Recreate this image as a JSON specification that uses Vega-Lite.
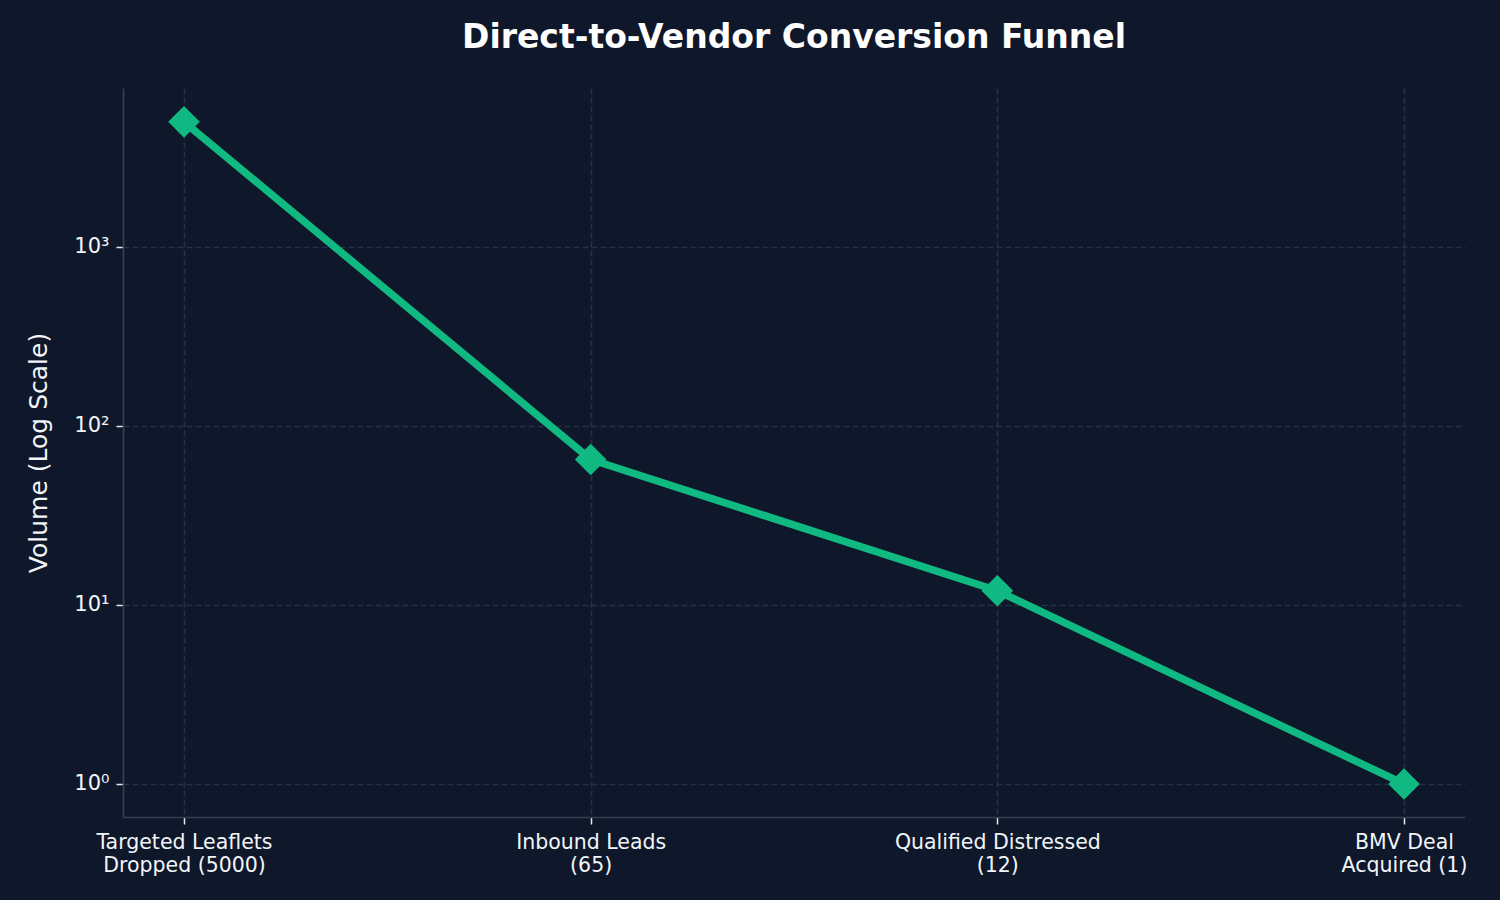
{
  "$schema": "https://vega.github.io/schema/vega-lite/v6.json",
  "autosize": "none",
  "width": 1342,
  "height": 729,
  "padding": {"left": 123, "top": 88, "right": 35, "bottom": 83},
  "background": "#0f172a",
  "title": {
    "text": "Direct-to-Vendor Conversion Funnel",
    "font": "DejaVu Sans",
    "fontSize": 33,
    "fontWeight": "bold",
    "color": "#ffffff",
    "anchor": "middle",
    "offset": 33
  },
  "config": {
    "view": {"stroke": null},
    "font": "DejaVu Sans"
  },
  "data": {
    "values": [
      {"stage": "Targeted Leaflets|Dropped (5000)", "volume": 5000},
      {"stage": "Inbound Leads|(65)", "volume": 65},
      {"stage": "Qualified Distressed|(12)", "volume": 12},
      {"stage": "BMV Deal|Acquired (1)", "volume": 1}
    ]
  },
  "encoding": {
    "x": {
      "field": "stage",
      "type": "nominal",
      "sort": null,
      "scale": {"type": "point", "padding": 0.15},
      "axis": {
        "title": null,
        "labelAngle": 0,
        "labelExpr": "split(datum.value, '|')",
        "labelFont": "DejaVu Sans",
        "labelFontSize": 20.5,
        "labelLimit": 0,
        "labelColor": "#f1f5f9",
        "labelLineHeight": 23,
        "labelPadding": 8,
        "tickSize": 7,
        "tickWidth": 1.5,
        "tickColor": "#e2e8f0",
        "domainColor": "#334155",
        "domainWidth": 1.7,
        "grid": true,
        "gridColor": "#243045",
        "gridDash": [6, 3],
        "gridWidth": 1.7
      }
    },
    "y": {
      "field": "volume",
      "type": "quantitative",
      "scale": {"type": "log", "domain": [0.654, 7727], "nice": false},
      "axis": {
        "title": "Volume (Log Scale)",
        "titleFont": "DejaVu Sans",
        "titleFontSize": 25,
        "titleFontWeight": "normal",
        "titleColor": "#f1f5f9",
        "titlePadding": 22,
        "values": [1, 10, 100, 1000],
        "labelExpr": "datum.value == 1 ? '10⁰' : datum.value == 10 ? '10¹' : datum.value == 100 ? '10²' : '10³'",
        "labelFont": "DejaVu Sans",
        "labelFontSize": 21,
        "labelColor": "#f1f5f9",
        "labelPadding": 7,
        "tickSize": 7,
        "tickWidth": 1.5,
        "tickColor": "#e2e8f0",
        "domainColor": "#334155",
        "domainWidth": 1.7,
        "grid": true,
        "gridColor": "#243045",
        "gridDash": [6, 3],
        "gridWidth": 1.7
      }
    }
  },
  "layer": [
    {
      "mark": {"type": "line", "color": "#10b981", "strokeWidth": 7.5},
      "encoding": {}
    },
    {
      "mark": {"type": "point", "shape": "diamond", "filled": true, "color": "#10b981", "opacity": 1, "size": 1000},
      "encoding": {}
    }
  ]
}
